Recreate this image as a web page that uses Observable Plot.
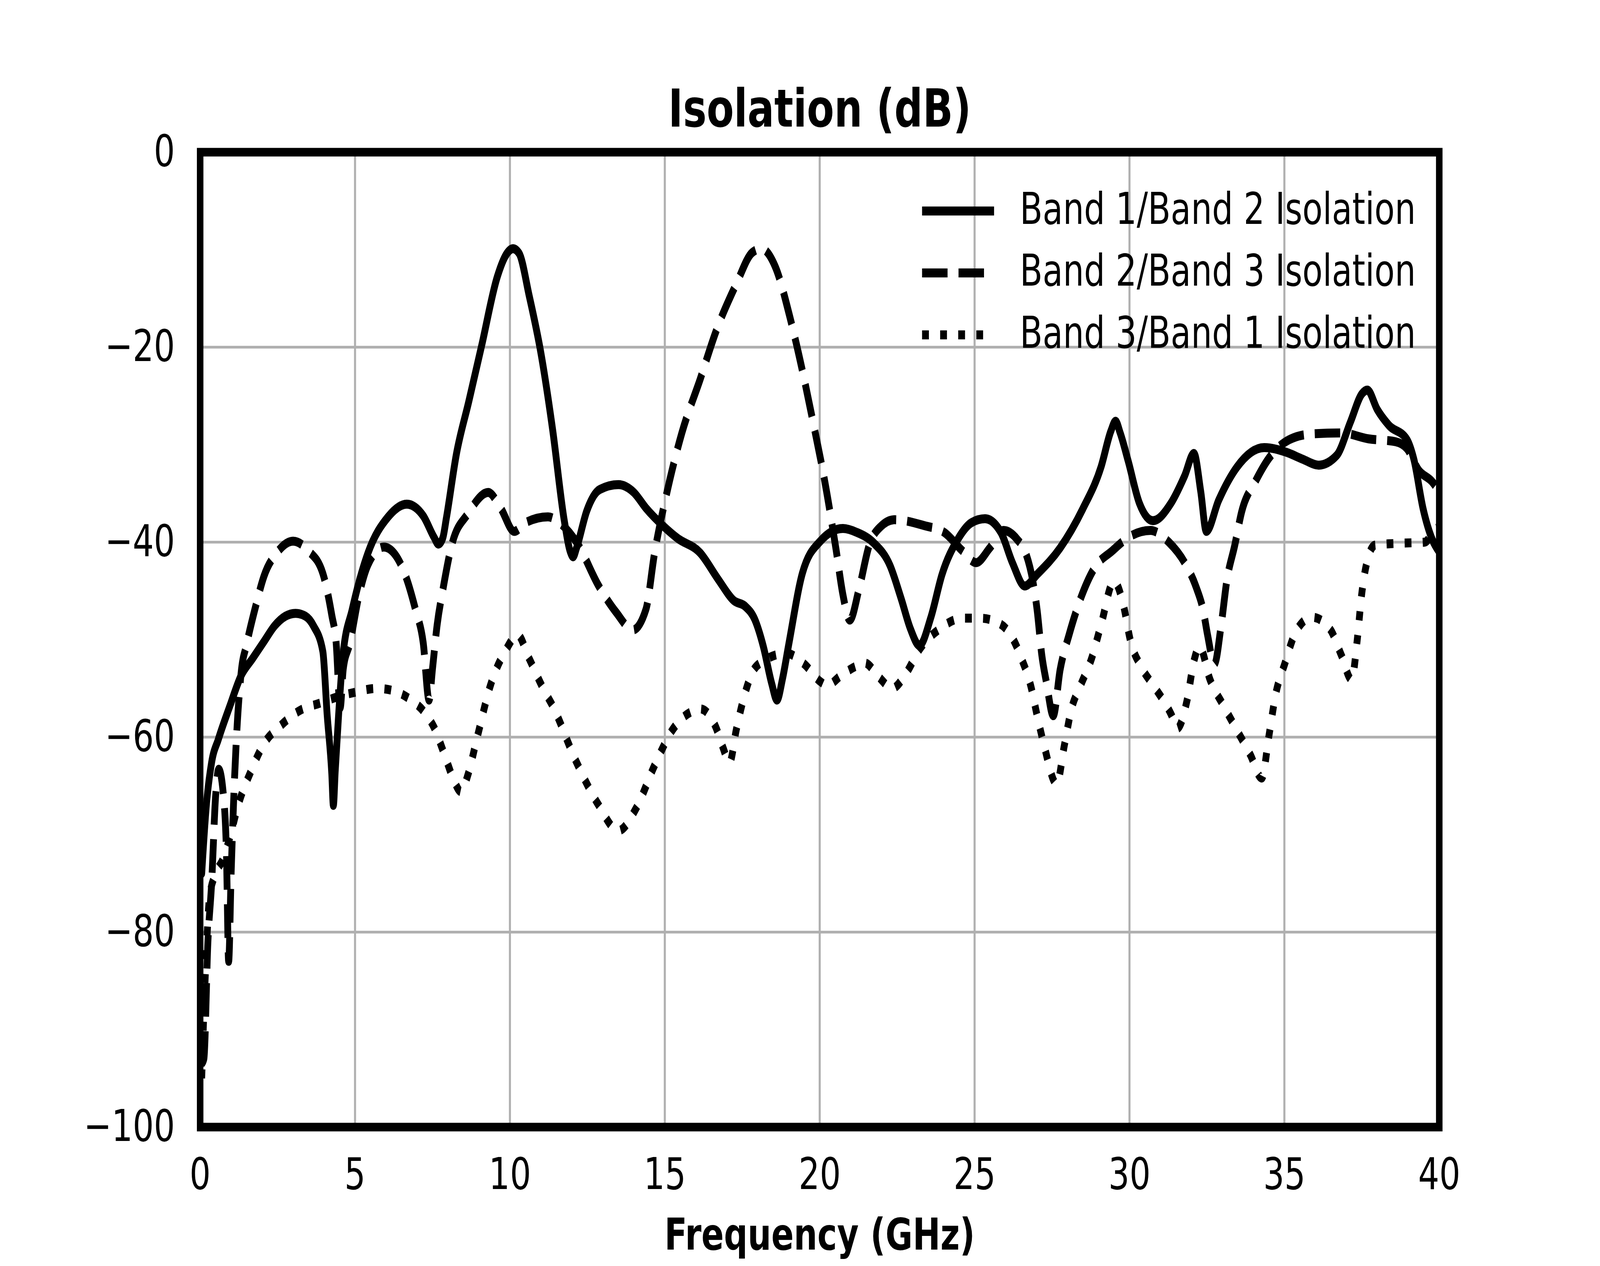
<!DOCTYPE html>
<html>
<head>
<meta charset="utf-8">
<script src="https://cdn.jsdelivr.net/npm/d3@7"></script>
<script src="https://cdn.jsdelivr.net/npm/@observablehq/plot@0.6"></script>
<style>
  html, body { margin: 0; padding: 0; background: #ffffff; overflow: hidden; width: 100vw; height: 100vh; }
  #chart { width: 100vw; height: 100vh; }
  #chart svg { display: block; width: 100vw !important; height: 100vh !important; max-width: none !important; }
</style>
</head>
<body>
<div id="chart"></div>
<script>
// ---- Data ----
const seriesNames = ["Band 1/Band 2 Isolation", "Band 2/Band 3 Isolation", "Band 3/Band 1 Isolation"];
const xTicks = [0, 5, 10, 15, 20, 25, 30, 35, 40];
const yTicks = [0, -20, -40, -60, -80, -100];

const b12Freq = [0.05,0.2,0.37,0.59,0.96,1.32,1.7,2.06,2.4,2.75,3.08,3.4,3.66,3.96,4.1,4.25,4.3,4.36,4.47,4.61,4.91,5.42,6.07,6.67,7.2,7.55,7.69,7.83,7.95,8.27,8.67,9.09,9.59,9.9,10.1,10.3,10.62,11.0,11.38,11.75,11.95,12.04,12.15,12.48,12.9,13.5,14.0,14.39,14.97,15.41,16.14,16.72,17.23,17.6,17.9,18.18,18.45,18.62,18.8,19.0,19.44,20.02,20.75,21.2,21.75,22.27,22.63,22.93,23.22,23.59,23.95,24.46,24.9,25.34,25.85,26.22,26.62,27.02,27.76,28.49,29.08,29.4,29.55,29.7,29.96,30.32,30.76,31.34,31.78,32.08,32.3,32.48,32.88,33.47,34.35,35.08,35.6,36.11,36.69,37.13,37.5,37.68,38.0,38.37,38.96,39.18,39.48,39.77,40];
const b12Db = [-74,-67,-62.6,-60.2,-56.8,-53.7,-51.9,-50.2,-48.6,-47.6,-47.3,-47.6,-48.6,-51.2,-57.7,-63.8,-67,-63.5,-57.7,-51.6,-46.9,-41.1,-37.4,-36.1,-37.3,-39.5,-40.2,-39.6,-37.5,-31,-25.6,-19.8,-12.8,-10.4,-9.9,-10.4,-14.7,-20.6,-28.5,-37.7,-41,-41.5,-40.6,-36.8,-34.6,-34.1,-34.9,-36.5,-38.4,-39.6,-41.1,-43.8,-46,-46.6,-47.9,-50.7,-54.5,-56.2,-54,-50.5,-43.2,-39.9,-38.6,-39,-40.1,-42.4,-45.8,-48.9,-50.6,-47.7,-43.3,-39.7,-38,-37.6,-39,-42.1,-44.5,-43.3,-40.6,-36.6,-32.3,-28.6,-27.6,-28.8,-31.7,-36,-37.8,-36,-33.2,-30.9,-34.8,-38.9,-35.7,-32.3,-30.3,-30.8,-31.5,-32.1,-31.1,-27.7,-24.8,-24.4,-26.4,-28,-29.5,-31.5,-36.6,-39.7,-41];

const b23Freq = [0.05,0.12,0.25,0.37,0.5,0.6,0.74,0.85,0.92,1.0,1.1,1.32,1.5,1.79,2.06,2.5,3.0,3.5,3.96,4.25,4.39,4.52,4.62,4.83,5.13,5.42,5.93,6.3,6.67,6.95,7.2,7.39,7.5,7.65,7.84,8.13,8.64,9.3,9.7,10.14,10.5,11.23,11.6,12.19,12.85,13.43,13.97,14.39,14.67,15.04,15.55,16.14,16.65,17.31,17.82,18.12,18.56,19.06,19.44,19.8,20.16,20.53,20.75,20.97,21.27,21.6,21.97,22.41,23.37,24.02,24.61,25.05,25.49,25.93,26.37,26.66,26.88,27.02,27.17,27.32,27.54,27.76,28.05,28.42,28.86,29.44,30.02,30.68,31.27,31.78,32.15,32.38,32.52,32.74,32.96,33.14,33.4,33.62,34.06,34.5,35.15,35.89,36.84,37.71,38.59,38.96,39.33,39.77,40];
const b23Db = [-93.5,-93,-81,-75,-66,-63.3,-65.6,-72,-83,-74,-65,-53.5,-50.5,-46.6,-43.5,-41,-39.9,-40.9,-43.2,-47.5,-50.3,-57,-53,-50.4,-45.4,-42.3,-40.5,-41.3,-43.8,-46.9,-50.3,-56.2,-53,-48.5,-44.8,-40.2,-37.1,-34.9,-36.5,-38.9,-38,-37.4,-38,-40.2,-44.4,-47.2,-49,-46.9,-41.1,-35.3,-28.8,-23.3,-18.4,-13.5,-10.3,-9.9,-11.7,-17.2,-22.4,-27.9,-33.7,-40.8,-45.4,-48,-44.8,-40.3,-38.4,-37.7,-38.3,-39,-40.9,-42.1,-40.6,-38.8,-39.7,-41.2,-44,-47,-51.6,-54.4,-57.8,-53.1,-49.5,-45.8,-42.7,-40.9,-39.4,-38.8,-40,-42.1,-44.6,-47,-49.5,-52.5,-48.5,-44,-40.3,-36.9,-33.8,-31.4,-29.5,-28.9,-28.8,-29.4,-29.7,-30.4,-32.6,-33.8,-34.8];

const b31Freq = [0.05,0.1,0.2,0.3,0.5,0.74,1.0,1.18,1.68,2.0,2.64,3.2,3.88,4.5,5.0,5.71,6.3,6.81,7.2,7.55,7.91,8.2,8.42,8.65,8.93,9.37,9.88,10.25,10.6,11.12,11.38,12.11,12.85,13.5,14.09,14.67,15.26,15.85,16.14,16.65,16.87,17.09,17.31,17.53,17.82,18.18,18.92,19.5,20.02,20.24,20.68,21.19,21.46,21.9,22.34,22.78,23.22,23.87,24.61,25.19,25.78,26.22,26.51,26.81,27.02,27.24,27.65,27.9,28.12,28.42,28.78,29.08,29.5,29.8,30.03,30.4,30.84,31.35,31.54,31.86,32.08,32.26,32.6,33.04,33.47,33.9,34.27,34.5,34.72,35.01,35.37,35.89,36.47,36.84,37.17,37.35,37.49,37.71,37.93,38.81,39.53,39.9,40];
const b31Db = [-95,-90,-82,-76.5,-74,-72.5,-69.8,-67.5,-63.2,-61,-58.7,-57.3,-56.5,-55.8,-55.4,-55,-55.3,-56.2,-57.3,-59,-62,-64.5,-65.6,-63.8,-60.2,-54.7,-51,-49.5,-51.8,-55.3,-56.8,-62.3,-66.9,-69.6,-67.2,-62.9,-59.2,-57.4,-57.1,-59,-61,-62.6,-59.2,-56.2,-53.4,-52.2,-51.4,-52.5,-54.3,-54.7,-53.7,-52.7,-52.4,-53.8,-55,-53.5,-51,-48.9,-47.8,-47.8,-48.3,-49.8,-51.9,-54.7,-57.8,-60.8,-64.8,-60.8,-57.2,-54.7,-51.9,-48.5,-44,-46.4,-50.1,-52.9,-55,-57.7,-59.1,-56.2,-52.2,-50.7,-54.1,-56.8,-59.3,-61.8,-64.2,-59.9,-55.6,-52.5,-49.2,-47.7,-48.9,-51.6,-54.1,-50.1,-45.5,-41.5,-40.3,-40.1,-40,-38.6,-38.5];

// ---- Table built from the arrays ----
const toRows = (fs, ds, name) => fs.map((f, i) => ({freq: f, db: ds[i], series: name}));
const b12 = toRows(b12Freq, b12Db, seriesNames[0]);
const b23 = toRows(b23Freq, b23Db, seriesNames[1]);
const b31 = toRows(b31Freq, b31Db, seriesNames[2]);

// ---- Styles ----
const FONT = "DejaVu Sans";
const LW = 23;
const dashes = [null, "86,37", "23,38"];

const fmt = d => (d < 0 ? "\u2212" + Math.abs(d) : String(d));

// Legend (drawn inside the SVG, top-right of the frame, no box)
const legendMark = (index, scales, values, dims) => {
  const g = d3.create("svg:g");
  const x0 = dims.width - dims.marginRight - 1745;
  const y0 = dims.marginTop + 151;
  seriesNames.forEach((name, i) => {
    const y = y0 + i * 158.5;
    const ln = g.append("line")
      .attr("x1", x0).attr("x2", x0 + 243)
      .attr("y1", y).attr("y2", y)
      .attr("stroke", "black").attr("stroke-width", LW)
      .attr("stroke-linecap", "butt");
    if (dashes[i]) ln.attr("stroke-dasharray", dashes[i]);
    g.append("text")
      .attr("x", x0 + 330).attr("y", y + 33)
      .attr("text-anchor", "start")
      .attr("font-family", FONT).attr("font-size", 112)
      .attr("fill", "black")
      .text(name);
  });
  return g.node();
};

const chart = Plot.plot({
  width: 5400,
  height: 3240,
  marginLeft: 675,
  marginRight: 543,
  marginTop: 389,
  marginBottom: 356,
  style: {fontFamily: FONT, background: "white"},
  x: {domain: [0, 40]},
  y: {domain: [-100, 0]},
  marks: [
    Plot.gridX(xTicks, {stroke: "#b0b0b0", strokeOpacity: 1, strokeWidth: 7}),
    Plot.gridY(yTicks, {stroke: "#b0b0b0", strokeOpacity: 1, strokeWidth: 7}),
    Plot.line(b12, {x: "freq", y: "db", stroke: "black", strokeWidth: LW, curve: "monotone-x", clip: true, strokeLinejoin: "round"}),
    Plot.line(b23, {x: "freq", y: "db", stroke: "black", strokeWidth: LW, curve: "monotone-x", clip: true, strokeDasharray: dashes[1], strokeLinecap: "butt"}),
    Plot.line(b31, {x: "freq", y: "db", stroke: "black", strokeWidth: LW, curve: "monotone-x", clip: true, strokeDasharray: dashes[2], strokeLinecap: "butt"}),
    Plot.frame({stroke: "black", strokeWidth: 22}),
    Plot.axisX({ticks: xTicks, tickSize: 0, tickPadding: 79, fontSize: 112, tickFormat: fmt, label: null}),
    Plot.axisY({ticks: yTicks, tickSize: 0, tickPadding: 85, fontSize: 112, tickFormat: fmt, label: null}),
    Plot.text(["Isolation (dB)"], {frameAnchor: "top", dy: -66, lineAnchor: "bottom", fontSize: 134, fontWeight: "bold", fill: "black"}),
    Plot.text(["Frequency (GHz)"], {frameAnchor: "bottom", dy: 313, lineAnchor: "bottom", fontSize: 112, fontWeight: "bold", fill: "black"}),
    legendMark
  ]
});
// The drawing is laid out for 5400x3240; let it fill the window exactly.
chart.setAttribute("viewBox", "0 0 5400 3240");
chart.setAttribute("preserveAspectRatio", "none");
document.getElementById("chart").appendChild(chart);
</script>
</body>
</html>
